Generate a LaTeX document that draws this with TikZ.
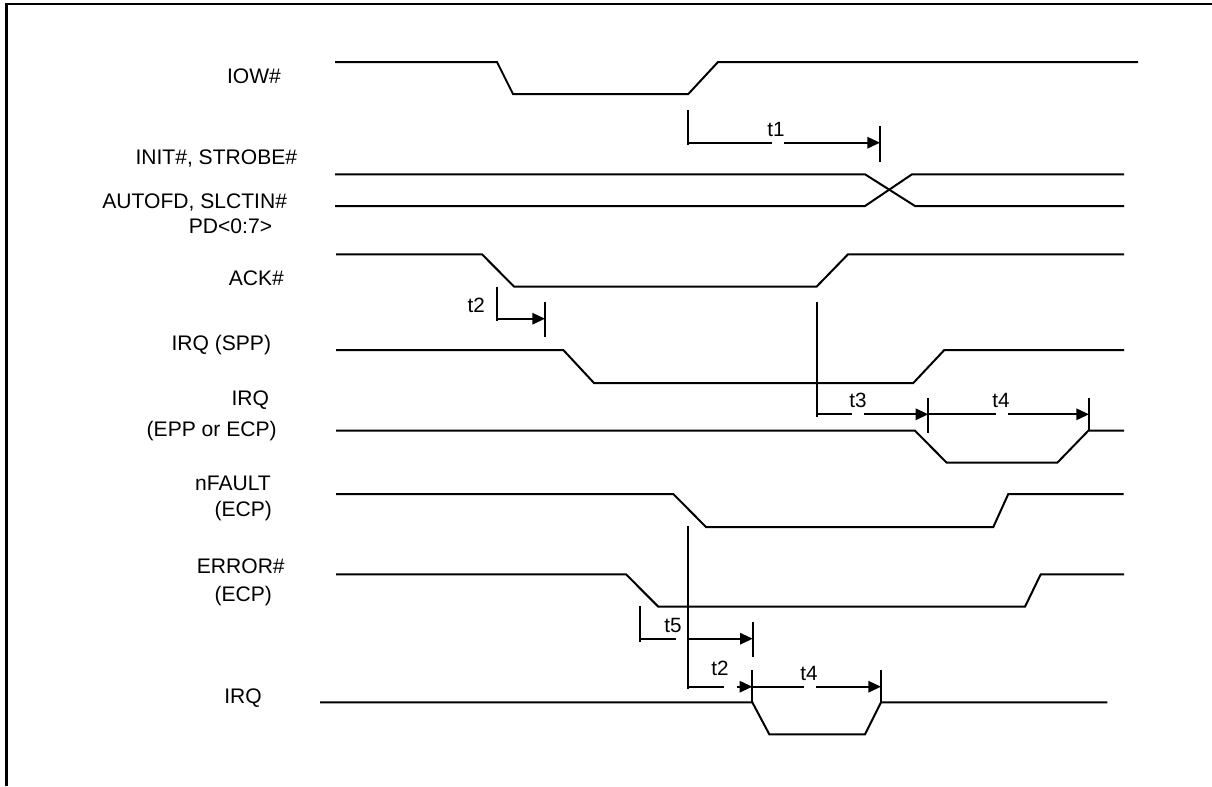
\documentclass[tikz,border=0pt]{standalone}
\usepackage{fontspec}
\setmainfont{Liberation Sans}
\usetikzlibrary{arrows.meta}
\begin{document}
\begin{tikzpicture}[x=0.75pt,y=-0.75pt,
  sig/.style={line width=1.5pt},
  mk/.style={line width=1.5pt},
  dimarr/.style={line width=1.5pt,-{Triangle[length=9.5pt,width=8.5pt]}},
  lbl/.style={anchor=base,inner sep=0pt,font=\fontsize{15.8}{18}\selectfont},
  tlbl/.style={anchor=base,inner sep=0pt,font=\fontsize{15.5}{18}\selectfont}]
\useasboundingbox (0,0) rectangle (1212,786);
% frame
\draw[line width=1.9pt] (6.5,786) -- (6.5,4.2) -- (1212,4.2);

% signal names
\node[lbl] (nIOW)   at (254,83.3)  {IOW\#};
\node[lbl] (nINIT)  at (216.3,164) {INIT\#, STROBE\#};
\node[lbl] (nAUTO)  at (194.7,208) {AUTOFD, SLCTIN\#};
\node[lbl] (nPD)    at (230.5,233) {PD<0:7>};
\node[lbl] (nACK)   at (256.3,285.7) {ACK\#};
\node[lbl] (nSPP)   at (221.3,350) {IRQ (SPP)};
\node[lbl] (nIRQa)  at (250.3,405.5) {IRQ};
\node[lbl] (nEPP)   at (211.7,436.5) {(EPP or ECP)};
\node[lbl] (nFLT)   at (233,490) {nFAULT};
\node[lbl] (nECPa)  at (243.3,516.7) {(ECP)};
\node[lbl] (nERR)   at (240.8,573.3) {ERROR\#};
\node[lbl] (nECPb)  at (243.3,601.7) {(ECP)};
\node[lbl] (nIRQb)  at (243,703) {IRQ};

% waveforms
\draw[sig] (335,62)--(497,62)--(513,94)--(688.3,94)--(718,62)--(1138,62);
\draw[sig] (335,174.3)--(865,174.3)--(915,206)--(1124,206);
\draw[sig] (335,206)--(865,206)--(912,174.3)--(1124,174.3);
\draw[sig] (336,254.3)--(482,254.3)--(514,286.5)--(816.7,286.5)--(848,254.3)--(1124,254.3);
\draw[sig] (336,350)--(563.3,350)--(594,383)--(913.3,383)--(944.3,350)--(1124,350);
\draw[sig] (336,430.7)--(915,430.7)--(946.7,462.7)--(1057.3,462.7)--(1088.3,430.7)--(1124,430.7);
\draw[sig] (336,494)--(673.3,494)--(706,527)--(993.3,527)--(1008.3,494)--(1123.5,494);
\draw[sig] (336,574.3)--(626,574.3)--(658.3,606.7)--(1025,606.7)--(1040.7,574.3)--(1124,574.3);
\draw[sig] (320,702.3)--(752.3,702.3)--(769.3,734.3)--(865,734.3)--(881,702.3)--(1107.3,702.3);

% t1
\draw[mk] (688.3,110)--(688.3,145);
\draw[mk] (688.3,142.7)--(771.7,142.7);
\draw[dimarr] (784,142.7)--(880,142.7);
\draw[mk] (880,126)--(880,161.7);
\node[tlbl] (t1) at (776,136.7) {t1};

% t2 (first)
\draw[mk] (496.7,286.7)--(496.7,321);
\draw[dimarr] (496.7,318.7)--(545,318.7);
\draw[mk] (545,302)--(545,337);
\node[tlbl] (t2a) at (476.3,312.3) {t2};

% t3 and t4
\draw[mk] (816.7,302.3)--(816.7,416.7);
\draw[mk] (816.7,414.3)--(851.7,414.3);
\draw[dimarr] (864.3,414.3)--(928.3,414.3);
\draw[mk] (928.3,398)--(928.3,433.3);
\node[tlbl] (t3) at (858,407.7) {t3};
\draw[mk] (928.3,414.3)--(995.7,414.3);
\draw[dimarr] (1008.3,414.3)--(1089,414.3);
\draw[mk] (1089,398)--(1089,431);
\node[tlbl] (t4a) at (1001,407.7) {t4};

% long reference line from nFAULT
\draw[mk] (688.3,526)--(688.3,689.3);

% t5
\draw[mk] (640,606)--(640,641.7);
\draw[mk] (640,638.7)--(676,638.7);
\draw[dimarr] (688.3,638.7)--(752.7,638.7);
\draw[mk] (752.7,621.7)--(752.7,656.7);
\node[tlbl] (t5) at (673,632.7) {t5};

% t2 (second) and t4 (second)
\draw[mk] (688.3,686.7)--(724,686.7);
\draw[dimarr] (736.7,686.7)--(752.3,686.7);
\draw[mk] (752.3,670)--(752.3,702.3);
\node[tlbl] (t2b) at (720,675.7) {t2};
\draw[mk] (752.3,686.7)--(804,686.7);
\draw[dimarr] (816,686.7)--(881,686.7);
\draw[mk] (881,670)--(881,702.3);
\node[tlbl] (t4b) at (809,680) {t4};
\end{tikzpicture}
\end{document}
